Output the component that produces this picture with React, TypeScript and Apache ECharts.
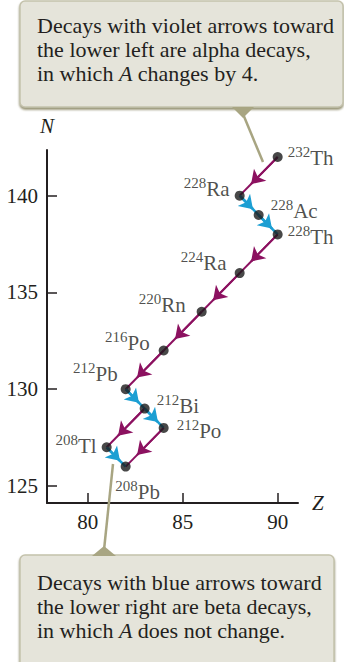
import React, { useEffect, useRef } from 'react';
import * as echarts from 'echarts';

// ---- data ----
const nuclideMass = [232, 228, 228, 228, 224, 220, 216, 212, 212, 212, 208, 208];
const nuclideSymbol = ['Th', 'Ra', 'Ac', 'Th', 'Ra', 'Rn', 'Po', 'Pb', 'Bi', 'Po', 'Tl', 'Pb'];
const nuclideZ = [90, 88, 89, 90, 88, 86, 84, 82, 83, 84, 81, 82];
const nuclideN = [142, 140, 139, 138, 136, 134, 132, 130, 129, 128, 127, 126];
const alphaDecays = [[0, 1], [3, 4], [4, 5], [5, 6], [6, 7], [8, 10], [9, 11]];
const betaDecays = [[1, 2], [2, 3], [7, 8], [8, 9], [10, 11]];
const zTicks = [80, 85, 90];
const nTicks = [125, 130, 135, 140];
const zRange = [77.86, 91.07];
const nRange = [124.12, 142.36];
const topNote = ['Decays with violet arrows toward', 'the lower left are alpha decays,', 'in which {i|A} changes by 4.'];
const bottomNote = ['Decays with blue arrows toward', 'the lower right are beta decays,', 'in which {i|A} does not change.'];

// ---- layout / style ----
const labelPlacement: { position: string; offset: number[] }[] = [
  { position: 'right', offset: [0, 0] },
  { position: 'left', offset: [0, -8] },
  { position: 'right', offset: [2, -6] },
  { position: 'right', offset: [0, 1] },
  { position: 'left', offset: [-3, -12] },
  { position: 'left', offset: [-6, -8] },
  { position: 'left', offset: [-4, -9] },
  { position: 'left', offset: [2, -17] },
  { position: 'right', offset: [2, -4] },
  { position: 'right', offset: [3, 2] },
  { position: 'left', offset: [0, -3] },
  { position: 'bottom', offset: [12, 2] },
];
const FONT = 'Liberation Serif';
const VIOLET = '#8C1160';
const BLUE = '#1C9FD3';
const INK = '#231F20';
const BOX_FILL = '#E5E4DA';
const BOX_STROKE = '#C4C2AC';
const POINTER = '#A8A582';
const ARROW_AT = 0.7;

function fullSegments(pairs: number[][]) {
  return pairs.map(([a, b]) => ({
    coords: [[nuclideZ[a], nuclideN[a]], [nuclideZ[b], nuclideN[b]]],
  }));
}
function headSegments(pairs: number[][]) {
  return pairs.map(([a, b]) => ({
    coords: [
      [nuclideZ[a], nuclideN[a]],
      [
        nuclideZ[a] + (nuclideZ[b] - nuclideZ[a]) * ARROW_AT,
        nuclideN[a] + (nuclideN[b] - nuclideN[a]) * ARROW_AT,
      ],
    ],
  }));
}

export default function App() {
  const ref = useRef<HTMLDivElement>(null);
  useEffect(() => {
    if (!ref.current) return;
    const chart = echarts.init(ref.current, null, { renderer: 'svg' });
    const textRich = {
      t: { fontFamily: FONT, fontSize: 22, color: INK, lineHeight: 24 },
      i: { fontFamily: FONT, fontSize: 22, fontStyle: 'italic', color: INK, lineHeight: 24 },
    };
    const noteText = (lines: string[]) =>
      lines
        .map((l) =>
          l
            .split(/(\{i\|[^}]*\})/)
            .filter((s) => s)
            .map((s) => (s.startsWith('{i|') ? s : `{t|${s}}`))
            .join('')
        )
        .join('\n');
    chart.setOption({
      animation: false,
      grid: { left: 47, top: 150, right: 46, bottom: 159 },
      xAxis: {
        type: 'value',
        min: zRange[0],
        max: zRange[1],
        name: 'Z',
        nameLocation: 'end',
        nameGap: 14,
        nameTextStyle: { fontFamily: FONT, fontSize: 21, fontStyle: 'italic', color: INK },
        axisLine: { onZero: false, lineStyle: { color: INK, width: 2 } },
        axisTick: { show: true, inside: true, length: 10, customValues: zTicks, lineStyle: { color: INK, width: 1.5 } },
        axisLabel: { customValues: zTicks, margin: 8, fontFamily: FONT, fontSize: 21, color: INK },
        splitLine: { show: false },
      },
      yAxis: {
        type: 'value',
        min: nRange[0],
        max: nRange[1],
        name: 'N',
        nameLocation: 'end',
        nameGap: 14,
        nameTextStyle: { fontFamily: FONT, fontSize: 21, fontStyle: 'italic', color: INK },
        axisLine: { onZero: false, lineStyle: { color: INK, width: 2 } },
        axisTick: { show: true, inside: true, length: 10, customValues: nTicks, lineStyle: { color: INK, width: 1.5 } },
        axisLabel: { customValues: nTicks, margin: 9, fontFamily: FONT, fontSize: 21, color: INK },
        splitLine: { show: false },
      },
      series: [
        {
          type: 'lines', coordinateSystem: 'cartesian2d', silent: true, z: 2,
          symbol: 'none',
          lineStyle: { color: VIOLET, width: 2, opacity: 1 },
          data: fullSegments(alphaDecays),
        },
        {
          type: 'lines', coordinateSystem: 'cartesian2d', silent: true, z: 3,
          symbol: ['none', 'arrow'], symbolSize: 13,
          lineStyle: { color: VIOLET, width: 2, opacity: 1 },
          data: headSegments(alphaDecays),
        },
        {
          type: 'lines', coordinateSystem: 'cartesian2d', silent: true, z: 2,
          symbol: 'none',
          lineStyle: { color: BLUE, width: 2.5, opacity: 1 },
          data: fullSegments(betaDecays),
        },
        {
          type: 'lines', coordinateSystem: 'cartesian2d', silent: true, z: 3,
          symbol: ['none', 'arrow'], symbolSize: 13,
          lineStyle: { color: BLUE, width: 2.5, opacity: 1 },
          data: headSegments(betaDecays),
        },
        {
          type: 'scatter', z: 5, silent: true,
          symbol: 'circle', symbolSize: 10,
          itemStyle: { color: '#1A1A1A' },
          label: {
            show: true,
            distance: 5,
            fontFamily: FONT,
            formatter: (p: any) => `{s|${nuclideMass[p.dataIndex]}}{e|${nuclideSymbol[p.dataIndex]}}`,
            rich: {
              s: { fontFamily: FONT, fontSize: 15, lineHeight: 15, verticalAlign: 'top', color: INK },
              e: { fontFamily: FONT, fontSize: 21, lineHeight: 24, verticalAlign: 'bottom', color: INK },
            },
          },
          data: nuclideZ.map((z, i) => ({
            value: [z, nuclideN[i]],
            label: { position: labelPlacement[i].position, offset: labelPlacement[i].offset },
          })),
        },
      ],
      graphic: [
        {
          type: 'rect', z: 100,
          shape: { x: 20, y: 1, width: 323, height: 106, r: 5 },
          style: {
            fill: BOX_FILL, stroke: BOX_STROKE, lineWidth: 1.5,
            shadowBlur: 2, shadowOffsetY: 2, shadowColor: 'rgba(120,115,75,0.8)',
          },
        },
        {
          type: 'polygon', z: 101,
          shape: { points: [[232, 107], [254, 107], [243, 118]] },
          style: { fill: POINTER },
        },
        {
          type: 'line', z: 101,
          shape: { x1: 243, y1: 114, x2: 263, y2: 162 },
          style: { stroke: POINTER, lineWidth: 2.5 },
        },
        {
          type: 'text', z: 102, x: 37, y: 13,
          style: { text: noteText(topNote), fill: INK, fontFamily: FONT, fontSize: 22, lineHeight: 24, rich: textRich },
        },
        {
          type: 'rect', z: 100,
          shape: { x: 20, y: 555, width: 314, height: 130, r: 5 },
          style: {
            fill: BOX_FILL, stroke: BOX_STROKE, lineWidth: 1.5,
            shadowBlur: 2, shadowOffsetY: 2, shadowColor: 'rgba(120,115,75,0.8)',
          },
        },
        {
          type: 'polygon', z: 101,
          shape: { points: [[92, 556], [116, 556], [104, 546]] },
          style: { fill: POINTER },
        },
        {
          type: 'line', z: 101,
          shape: { x1: 104, y1: 550, x2: 113, y2: 464 },
          style: { stroke: POINTER, lineWidth: 2.5 },
        },
        {
          type: 'text', z: 102, x: 37, y: 570,
          style: { text: noteText(bottomNote), fill: INK, fontFamily: FONT, fontSize: 22, lineHeight: 24, rich: textRich },
        },
      ],
    });
    return () => chart.dispose();
  }, []);
  return (
    <div
      ref={ref}
      style={{ position: 'fixed', left: 0, top: 0, width: 344, height: 662, background: '#fff' }}
    />
  );
}
